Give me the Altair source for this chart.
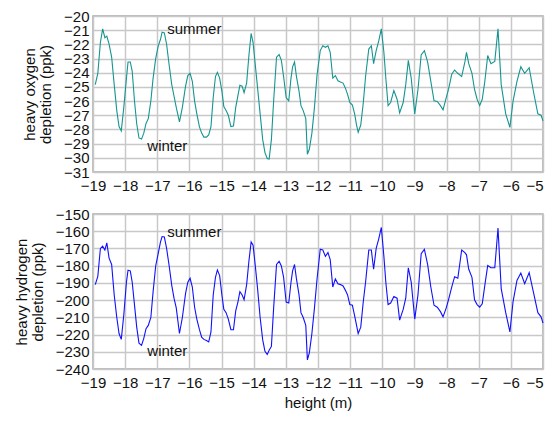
import altair as alt
import pandas as pd

height_m = [
    -18.93, -18.85, -18.77, -18.70, -18.63, -18.57, -18.50, -18.42, -18.34, -18.26,
    -18.19, -18.12, -18.04, -17.96, -17.91, -17.84, -17.78, -17.71, -17.64, -17.57,
    -17.49, -17.42, -17.35, -17.28, -17.20, -17.13, -17.05, -16.97, -16.90, -16.85,
    -16.78, -16.71, -16.63, -16.55, -16.48, -16.41, -16.31, -16.22, -16.12, -16.05,
    -15.98, -15.91, -15.84, -15.77, -15.69, -15.62, -15.55, -15.47, -15.40, -15.33,
    -15.26, -15.19, -15.13, -15.06, -14.99, -14.93, -14.86, -14.79, -14.71, -14.63,
    -14.56, -14.49, -14.43, -14.36, -14.30, -14.22, -14.15, -14.08, -14.02, -13.95,
    -13.88, -13.80, -13.72, -13.65, -13.58, -13.52, -13.45, -13.38, -13.29, -13.21,
    -13.14, -13.07, -12.99, -12.91, -12.84, -12.79, -12.73, -12.67, -12.59, -12.53,
    -12.46, -12.38, -12.33, -12.27, -12.19, -12.11, -12.03, -11.93, -11.85, -11.77,
    -11.69, -11.62, -11.54, -11.46, -11.38, -11.30, -11.22, -11.15, -11.08, -11.01,
    -10.93, -10.86, -10.80, -10.75, -10.67, -10.59, -10.52, -10.42, -10.34, -10.27,
    -10.19, -10.11, -10.03, -9.95, -9.89, -9.82, -9.74, -9.64, -9.54, -9.46,
    -9.35, -9.27, -9.19, -9.10, -8.99, -8.89, -8.79, -8.69, -8.59, -8.49,
    -8.39, -8.29, -8.19, -8.11, -8.01, -7.94, -7.84, -7.75, -7.65, -7.53,
    -7.43, -7.38, -7.31, -7.21, -7.13, -7.05, -6.97, -6.89, -6.81, -6.72,
    -6.62, -6.50, -6.40, -6.30, -6.16, -6.03, -5.93, -5.81, -5.69, -5.57,
    -5.43, -5.29, -5.16, -5.06, -5.00,
]

oxygen = [
    -24.84, -24.04, -21.87, -20.91, -21.53, -21.42, -21.99, -22.90, -24.84, -26.67,
    -27.80, -28.10, -26.40, -24.40, -23.24, -23.24, -23.90, -25.98, -27.60, -28.60,
    -28.68, -28.26, -27.58, -27.24, -25.98, -24.38, -23.01, -22.10, -21.64, -21.14,
    -21.19, -21.99, -23.47, -24.84, -25.64, -26.44, -27.47, -26.44, -24.95, -24.20,
    -24.04, -24.60, -25.98, -26.90, -27.80, -28.26, -28.54, -28.54, -28.38, -27.80,
    -25.75, -24.27, -23.97, -24.38, -25.30, -26.39, -26.67, -27.00, -27.80, -27.76,
    -26.44, -25.60, -24.89, -24.95, -25.41, -24.73, -22.79, -21.23, -21.87, -23.47,
    -25.07, -26.90, -28.72, -29.63, -30.05, -30.09, -28.72, -25.98, -22.90, -22.72,
    -23.13, -24.27, -25.75, -25.98, -24.38, -23.58, -23.24, -24.27, -25.30, -26.32,
    -26.67, -27.24, -29.75, -29.40, -28.26, -26.44, -24.16, -22.44, -22.10, -22.21,
    -22.10, -22.56, -24.38, -24.20, -24.57, -24.66, -24.73, -25.07, -25.53, -26.10,
    -26.28, -26.90, -27.69, -28.20, -27.69, -26.10, -24.27, -22.33, -22.10, -23.36,
    -22.44, -21.76, -20.91, -22.56, -24.38, -26.32, -26.10, -25.25, -25.87, -26.83,
    -26.10, -24.84, -23.13, -24.38, -26.90, -25.18, -22.74, -22.44, -23.24, -24.61,
    -25.98, -26.03, -26.32, -26.62, -25.75, -25.18, -24.11, -23.81, -24.04, -24.27,
    -23.24, -22.56, -23.36, -24.04, -25.18, -25.87, -26.32, -25.87, -24.61, -22.79,
    -23.36, -23.20, -20.91, -24.84, -26.90, -27.85, -25.98, -24.61, -23.58, -24.04,
    -23.65, -25.41, -26.90, -27.00, -27.40,
]

hydrogen = [
    -191.0, -186.2, -170.0, -168.7, -170.9, -166.8, -175.6, -179.3, -197.0, -210.1,
    -219.4, -222.8, -208.2, -189.6, -182.6, -183.0, -189.6, -202.6, -215.7, -225.0,
    -226.3, -222.2, -216.6, -214.7, -210.1, -195.1, -180.2, -172.8, -166.2, -163.1,
    -163.4, -170.0, -180.2, -191.4, -198.9, -204.5, -219.4, -210.1, -196.1, -189.6,
    -187.3, -192.4, -204.0, -211.0, -217.0, -221.5, -222.8, -223.5, -224.3, -218.5,
    -197.0, -186.8, -182.5, -185.8, -197.0, -205.4, -207.3, -211.0, -217.2, -217.2,
    -206.3, -201.0, -195.1, -197.0, -199.8, -191.0, -177.4, -166.2, -168.1, -180.2,
    -193.3, -210.1, -223.1, -229.7, -231.5, -229.1, -226.9, -204.5, -179.3, -177.4,
    -180.2, -186.8, -201.1, -201.7, -189.6, -183.0, -179.3, -187.7, -197.0, -207.3,
    -210.1, -214.7, -234.7, -230.6, -219.4, -204.5, -187.7, -170.5, -170.9, -174.6,
    -172.4, -176.5, -192.4, -187.7, -190.5, -191.0, -191.8, -194.2, -197.0, -202.6,
    -203.0, -209.1, -214.7, -219.4, -215.7, -200.7, -189.6, -170.9, -170.9, -182.1,
    -170.0, -164.4, -157.8, -174.6, -189.6, -202.6, -201.7, -197.9, -198.9, -211.6,
    -205.4, -198.9, -181.2, -189.6, -211.0, -197.0, -173.1, -170.5, -179.3, -192.4,
    -203.0, -204.1, -206.7, -209.7, -204.5, -199.8, -192.4, -186.4, -187.3, -170.9,
    -172.4, -173.7, -182.1, -186.8, -199.8, -202.6, -204.1, -202.2, -191.4, -179.9,
    -181.2, -181.2, -158.2, -193.3, -207.3, -218.5, -200.7, -188.6, -184.3, -190.5,
    -184.0, -196.1, -207.3, -209.7, -213.4,
]

x_ticks = list(range(-19, -4))
o_ticks = list(range(-31, -19))
h_ticks = list(range(-240, -149, 10))

label_text = ["summer", "winter"]
label_x = [-16.69, -17.31]
label_o = [-20.95, -29.15]
label_h = [-160.7, -229.8]

df = pd.DataFrame({"height": height_m, "oxygen": oxygen, "hydrogen": hydrogen})
lab = pd.DataFrame({"text": label_text, "x": label_x, "o": label_o, "h": label_h})

FONT = "Liberation Sans"
FS = 15
W = 450

x_align = {"expr": "datum.value == -5 ? 'right' : 'center'"}
ax_top_x = alt.Axis(title=None, values=x_ticks, format="d", labelAlign=x_align)
ax_bot_x = alt.Axis(title="height (m)", values=x_ticks, format="d", titlePadding=5,
                    labelAlign=x_align)
ax_top_y = alt.Axis(title=["heavy oxygen", "depletion (ppk)"], values=o_ticks,
                    format="d", titlePadding=10)
ax_bot_y = alt.Axis(title=["heavy hydrogen", "depletion (ppk)"], values=h_ticks,
                    format="d", titlePadding=10)

xs = alt.Scale(domain=[-19, -5], nice=False)
ys_o = alt.Scale(domain=[-31, -20], nice=False)
ys_h = alt.Scale(domain=[-240, -150], nice=False)

top_line = alt.Chart(df).mark_line(color="#159590", strokeWidth=1.1).encode(
    x=alt.X("height:Q", scale=xs, axis=ax_top_x),
    y=alt.Y("oxygen:Q", scale=ys_o, axis=ax_top_y),
)
top_text = alt.Chart(lab).mark_text(align="left", baseline="middle", fontSize=FS,
                                    font=FONT, color="#111").encode(
    x=alt.X("x:Q", scale=xs, axis=ax_top_x),
    y=alt.Y("o:Q", scale=ys_o, axis=ax_top_y),
    text="text:N")
top = alt.layer(top_line, top_text).properties(width=W, height=156)

bot_line = alt.Chart(df).mark_line(color="#1010ff", strokeWidth=1.1).encode(
    x=alt.X("height:Q", scale=xs, axis=ax_bot_x),
    y=alt.Y("hydrogen:Q", scale=ys_h, axis=ax_bot_y),
)
bot_text = alt.Chart(lab).mark_text(align="left", baseline="middle", fontSize=FS,
                                    font=FONT, color="#111").encode(
    x=alt.X("x:Q", scale=xs, axis=ax_bot_x),
    y=alt.Y("h:Q", scale=ys_h, axis=ax_bot_y),
    text="text:N")
bot = alt.layer(bot_line, bot_text).properties(width=W, height=155)

chart = alt.vconcat(top, bot, spacing=12).properties(
    background="white", padding={"left": 5, "top": 0, "right": 0, "bottom": 0}
).configure_view(
    stroke="#a8a8a8", strokeWidth=1.5
).configure_axis(
    grid=True, gridColor="#c8c8c8", gridWidth=1.5, ticks=False, domain=False,
    labelFont=FONT, labelFontSize=FS, labelColor="#111", labelOverlap=False,
    labelFlush=False, titleFont=FONT, titleFontSize=FS, titleFontWeight="normal",
    titleColor="#111", titleLineHeight=16,
).configure_axisX(labelPadding=6).configure_axisY(labelPadding=4)

chart.save("out.html", embed_options={"renderer": "svg", "actions": False})
